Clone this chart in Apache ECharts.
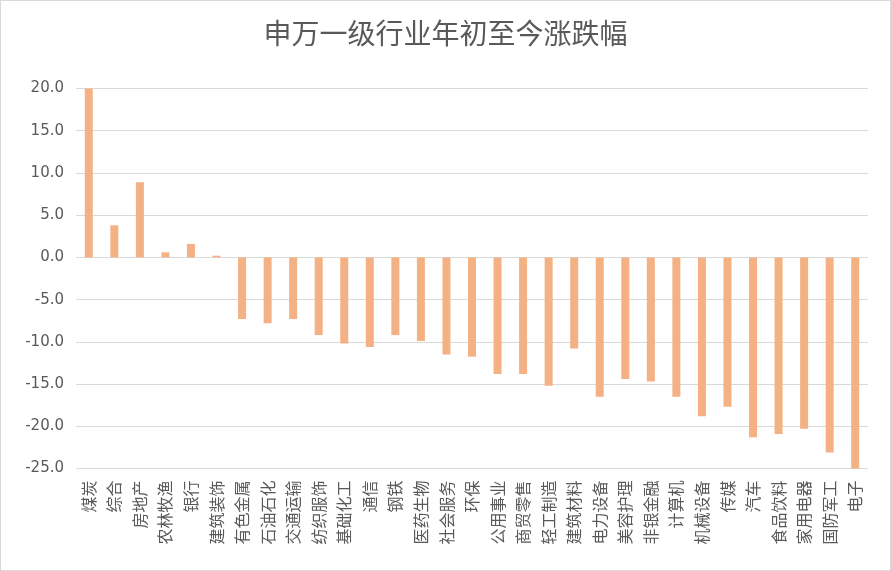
<!DOCTYPE html>
<html>
<head>
<meta charset="utf-8">
<script src="https://cdn.jsdelivr.net/npm/echarts@6/dist/echarts.min.js"></script>
<style>
html,body{margin:0;padding:0;background:#fff;}
#chart{width:891px;height:571px;box-sizing:border-box;border:1.5px solid #d9d9d9;}
</style>
</head>
<body>
<div id="chart"></div>
<script>
const titleText = '申万一级行业年初至今涨跌幅';
const categories = ['煤炭','综合','房地产','农林牧渔','银行','建筑装饰','有色金属','石油石化','交通运输','纺织服饰','基础化工','通信','钢铁','医药生物','社会服务','环保','公用事业','商贸零售','轻工制造','建筑材料','电力设备','美容护理','非银金融','计算机','机械设备','传媒','汽车','食品饮料','家用电器','国防军工','电子'];
const values = [20.0,3.8,8.9,0.6,1.6,0.2,-7.3,-7.8,-7.3,-9.2,-10.2,-10.6,-9.2,-9.9,-11.5,-11.75,-13.8,-13.8,-15.2,-10.8,-16.5,-14.4,-14.7,-16.5,-18.8,-17.7,-21.3,-20.9,-20.3,-23.1,-25.0];
const yMin = -25, yMax = 20, yStep = 5;

const chart = echarts.init(document.getElementById('chart'), null, {renderer:'canvas'});
const font = '"Noto Sans CJK SC", "Microsoft YaHei", sans-serif';
chart.setOption({
  animation:false,
  backgroundColor:'#fff',
  title:{
    text:titleText, left:'center', top:13,
    textStyle:{fontFamily:font, fontSize:28, fontWeight:'normal', color:'#595959'}
  },
  grid:{left:75, right:22, top:87.5, bottom:101.5, containLabel:false},
  xAxis:{
    type:'category', data:categories, position:'bottom',
    axisLine:{show:false, onZero:false}, axisTick:{show:false},
    axisLabel:{
      interval:0, rotate:90, margin:12, color:'#595959', fontFamily:font, fontSize:16
    }
  },
  yAxis:{
    type:'value', min:yMin, max:yMax, interval:yStep,
    axisLine:{show:false}, axisTick:{show:false},
    splitLine:{lineStyle:{color:'#d9d9d9', width:1}},
    axisLabel:{color:'#595959', fontFamily:'"DejaVu Sans", sans-serif', fontSize:15, margin:12, formatter:v=>v.toFixed(1)}
  },
  series:[{
    type:'bar', data:values, barWidth:8,
    itemStyle:{color:'#F4B183'}
  }]
});
</script>
</body>
</html>
